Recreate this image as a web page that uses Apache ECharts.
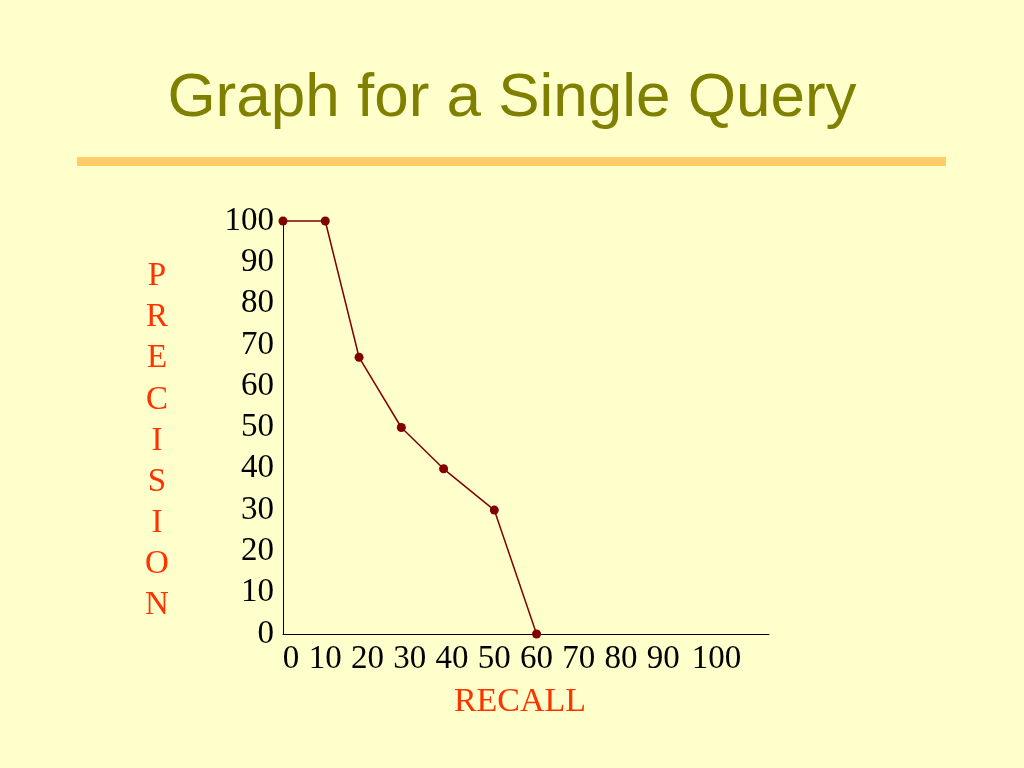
<!DOCTYPE html>
<html>
<head>
<meta charset="utf-8">
<script src="https://cdn.jsdelivr.net/npm/echarts@6/dist/echarts.min.js"></script>
<style>
html,body{margin:0;padding:0;background:#FFFFCC;}
#chart{width:1024px;height:768px;}
</style>
</head>
<body>
<div id="chart"></div>
<script>
// Data
const titleText = 'Graph for a Single Query';
const recall = [0, 10, 18, 28, 38, 50, 60];
const precision = [100, 100, 67, 50, 40, 30, 0];
const xTickMax = 100;
const yAxisName = 'PRECISION';
const xAxisName = 'RECALL';

const chart = echarts.init(document.getElementById('chart'));
const serif = '"Liberation Serif", "Times New Roman", serif';
const points = recall.map((r, i) => [r, precision[i]]);

chart.setOption({
  backgroundColor: '#FFFFCC',
  animation: false,
  title: {
    text: titleText,
    left: 'center',
    top: 63,
    textStyle: { fontFamily: '"Liberation Sans", Arial, sans-serif', fontSize: 62, fontWeight: 'normal', color: '#808000' }
  },
  graphic: [{
    type: 'rect',
    shape: { x: 77, y: 157, width: 869, height: 9 },
    style: { fill: '#FFCC66' }
  }, {
    type: 'text',
    x: 157,
    y: 256,
    style: {
      text: yAxisName.split('').join('\n'),
      font: '33px ' + serif,
      fill: '#FF3300',
      align: 'center',
      verticalAlign: 'top',
      lineHeight: 41.1
    }
  }],
  grid: { left: 283, top: 221, width: 486, height: 413 },
  xAxis: {
    type: 'value',
    min: 0, max: 115, interval: 10,
    name: xAxisName,
    nameLocation: 'middle',
    nameGap: 51,
    nameTextStyle: { fontFamily: serif, fontSize: 34, color: '#FF3300', padding: [0, 12, 0, 0] },
    axisLine: { show: true, lineStyle: { color: '#000', width: 1 } },
    axisTick: { show: false },
    splitLine: { show: false },
    axisLabel: {
      margin: 9,
      fontFamily: serif, fontSize: 33, color: '#000',
      showMaxLabel: false,
      formatter: v => {
        if (v > xTickMax) return '';
        if (v === 0) return '{first|' + v + '}';
        if (v === xTickMax) return '{last|' + v + '}';
        return String(v);
      },
      rich: {
        first: { fontFamily: serif, fontSize: 33, color: '#000', padding: [0, 0, 0, 16] },
        last: { fontFamily: serif, fontSize: 33, color: '#000', padding: [0, 0, 0, 22] }
      }
    }
  },
  yAxis: {
    type: 'value',
    min: 0, max: 100, interval: 10,
    axisLine: { show: true, lineStyle: { color: '#000', width: 1 } },
    axisTick: { show: false },
    splitLine: { show: false },
    axisLabel: { margin: 9, fontFamily: serif, fontSize: 33, color: '#000', padding: [4, 0, 0, 0] }
  },
  series: [{
    type: 'line',
    data: points,
    symbol: 'circle',
    symbolSize: 9,
    itemStyle: { color: '#800000' },
    lineStyle: { color: '#800000', width: 1.5 },
    clip: false
  }]
});
</script>
</body>
</html>
